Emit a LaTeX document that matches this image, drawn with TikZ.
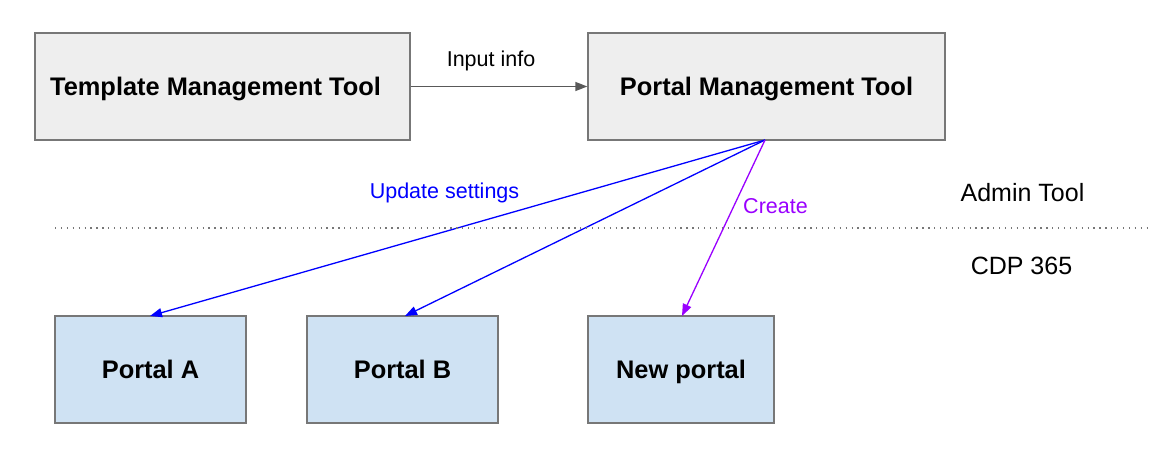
\documentclass[tikz,border=0pt]{standalone}
\usepackage{fontspec}
\setmainfont{Liberation Sans}
\usetikzlibrary{arrows.meta}
\definecolor{boxgray}{HTML}{EEEEEE}
\definecolor{boxblue}{HTML}{CFE2F3}
\definecolor{edgegray}{HTML}{777777}
\definecolor{arrgray}{HTML}{595959}
\definecolor{linkblue}{HTML}{0000FF}
\definecolor{linkpurple}{HTML}{9900FF}
\tikzset{
  toolbox/.style={draw=edgegray, line width=1.3pt, fill=boxgray, inner sep=0pt,
    font=\fontsize{25.4}{30}\selectfont\bfseries, text height=18.2pt, text depth=0pt},
  portalbox/.style={toolbox, fill=boxblue},
  lbl/.style={font=\fontsize{21.5}{26}\selectfont, anchor=base, inner sep=0pt},
  side/.style={font=\fontsize{25}{30}\selectfont, anchor=base, inner sep=0pt},
  conn/.style={line width=1.3pt, -{Triangle[length=12pt,width=9pt]}},
}
\begin{document}
\begin{tikzpicture}[x=1pt,y=-1pt]
\useasboundingbox (0,0) rectangle (1152,468);
\node[toolbox, minimum width=375pt, minimum height=107pt] (tmt) at (222.5,86.5) {Template Management Tool\hspace*{14pt}};
\node[toolbox, minimum width=357pt, minimum height=107pt] (pmt) at (766.5,86.5) {Portal Management Tool};
\node[portalbox, minimum width=191pt, minimum height=107pt] (pa) at (150.5,369.5) {Portal A};
\node[portalbox, minimum width=191pt, minimum height=107pt] (pb) at (402.5,369.5) {Portal B};
\node[portalbox, minimum width=186pt, minimum height=107pt] (np) at (681,369.5) {New portal};

\coordinate (src) at (765,140);
\coordinate (ta) at (150,316);
\coordinate (tb) at (405,316);
\coordinate (tn) at (682,316);

\draw[conn, arrgray] (tmt.east) -- (pmt.west);
\node[lbl] (inp) at (491,67) {Input info};

\draw[conn, linkblue] (src) -- (ta);
\draw[conn, linkblue] (src) -- (tb);
\draw[conn, linkpurple] (src) -- (tn);
\node[lbl, text=linkblue] (upd) at (444.5,199) {Update settings};
\node[lbl, text=linkpurple] (cre) at (775.5,214) {Create};

\coordinate (dl) at (55,228);
\coordinate (dr) at (1150,228);
\draw[edgegray, line width=1.3pt, dash pattern=on 1.3pt off 4.6pt] (dl) -- (dr);
\node[side] (adm) at (1022.5,201) {Admin Tool};
\node[side] (cdp) at (1021.5,274) {CDP 365};
\end{tikzpicture}
\end{document}
